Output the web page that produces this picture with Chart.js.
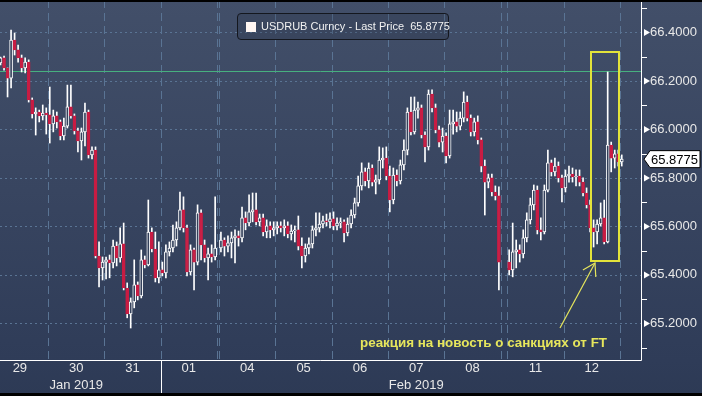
<!DOCTYPE html>
<html>
<head>
<meta charset="utf-8">
<script src="https://cdn.jsdelivr.net/npm/chart.js@4.4.1/dist/chart.umd.min.js"></script>
<style>
html, body { margin: 0; padding: 0; }
body {
  width: 702px; height: 396px; overflow: hidden;
  background: linear-gradient(#424f69 0px, #2f3c58 360px, #2d3a55 396px);
  font-family: "Liberation Sans", Arial, sans-serif;
}
.wrap { position: relative; width: 702px; height: 396px; }
.legend {
  position: absolute; left: 237px; top: 13px; width: 210px; height: 25px;
  border: 1px solid #14171e; border-radius: 4px; background: rgba(30, 38, 55, 0.2);
  color: #f2f2f2; font-size: 11px; line-height: 25px; white-space: nowrap;
}
.legend i { position: absolute; left: 8px; top: 8px; width: 10px; height: 10px; background: #fff6f2; }
.legend span { position: absolute; left: 23px; top: 0; }
.note {
  position: absolute; left: 360px; top: 335px; color: #e6e65c;
  font-weight: bold; font-size: 13.4px; white-space: nowrap;
}
.edge { position: absolute; left: 0; width: 702px; background: #000; }
</style>
</head>
<body>
<div class="wrap">
  <canvas id="chart"></canvas>
  <div class="legend"><i></i><span>USDRUB Curncy - Last Price&nbsp;&nbsp;65.8775</span></div>
  <div class="note">реакция на новость о санкциях от FT</div>
  <div class="edge" style="top:0;height:2px"></div>
  <div class="edge" style="top:393px;height:3px"></div>
</div>
<script>
// days shown (x unit = one trading day, weekends squeezed)
var dayLabels = ["29", "30", "31", "01", "04", "05", "06", "07", "08", "11", "12", "13"];
var monthLabels = { "30": "Jan 2019", "07": "Feb 2019" };
var dayStart = [-1, 0, 1, 2, 3.04, 4.04, 5.04, 6.04, 7.04, 8.16, 9.16, 10.16];
var firstSlot = [2, 0, 0, 0, 0, 0, 0, 0, 0, 0, 0, 0];
var barsPerDay = 16;
var gridLines = [0, 1, 2, 3, 3.04, 4.04, 5.04, 6.04, 7.04, 8.04, 8.16, 9.16, 10.16];
var monthSplit = 2;

var firstOpen = 66.274;
var closes = [
  [66.295, 66.254, 66.212, 66.369, 66.328, 66.295, 66.254, 66.278, 66.122, 66.064, 66.072, 66.056, 66.068, 66.060],
  [66.023, 66.056, 66.031, 65.973, 66.014, 66.093, 66.056, 65.994, 65.953, 65.990, 66.072, 65.895, 65.915, 65.478, 65.429, 65.453],
  [65.462, 65.449, 65.519, 65.470, 65.528, 65.346, 65.239, 65.289, 65.359, 65.313, 65.462, 65.441, 65.577, 65.507, 65.388, 65.421],
  [65.408, 65.495, 65.511, 65.544, 65.594, 65.668, 65.594, 65.412, 65.503, 65.453, 65.656, 65.524, 65.470, 65.487, 65.474, 65.511],
  [65.544, 65.519, 65.532, 65.553, 65.561, 65.553, 65.635, 65.614, 65.660, 65.668, 65.619, 65.635, 65.577, 65.602, 65.586, 65.594],
  [65.602, 65.594, 65.602, 65.569, 65.581, 65.586, 65.519, 65.478, 65.511, 65.528, 65.586, 65.594, 65.610, 65.623, 65.619, 65.631],
  [65.602, 65.614, 65.619, 65.573, 65.610, 65.647, 65.697, 65.767, 65.825, 65.788, 65.841, 65.783, 65.792, 65.874, 65.882, 65.808],
  [65.709, 65.812, 65.788, 65.854, 65.915, 66.072, 65.990, 66.080, 66.089, 65.977, 65.928, 66.146, 66.089, 65.998, 65.948, 65.973],
  [65.891, 66.023, 66.031, 66.014, 66.047, 66.113, 66.047, 65.990, 66.031, 65.957, 65.849, 65.783, 65.800, 65.742, 65.726, 65.453],
  [65.421, 65.495, 65.503, 65.487, 65.553, 65.627, 65.689, 65.750, 65.586, 65.577, 65.750, 65.862, 65.825, 65.849, 65.800, 65.759],
  [65.808, 65.816, 65.804, 65.808, 65.783, 65.738, 65.689, 65.594, 65.577, 65.610, 65.635, 65.536, 65.936, 65.882, 65.899, 65.866],
  [65.8775]
];
var highs = [
  [66.299, 66.303, 66.254, 66.410, 66.398, 66.348, 66.307, 66.295, 66.287, 66.130, 66.089, 66.080, 66.101, 66.089],
  [66.175, 66.080, 66.072, 66.039, 66.047, 66.183, 66.183, 66.064, 66.006, 66.006, 66.109, 66.080, 65.928, 65.928, 65.536, 65.474],
  [65.474, 65.482, 65.544, 65.536, 65.594, 65.614, 65.367, 65.305, 65.462, 65.371, 65.503, 65.478, 65.709, 65.594, 65.577, 65.536],
  [65.453, 65.524, 65.536, 65.606, 65.619, 65.742, 65.722, 65.606, 65.524, 65.511, 65.689, 65.668, 65.544, 65.511, 65.524, 65.722],
  [65.577, 65.553, 65.561, 65.577, 65.586, 65.581, 65.680, 65.660, 65.730, 65.738, 65.738, 65.651, 65.651, 65.627, 65.619, 65.619],
  [65.619, 65.619, 65.627, 65.619, 65.606, 65.602, 65.643, 65.553, 65.528, 65.553, 65.602, 65.656, 65.656, 65.643, 65.651, 65.656],
  [65.660, 65.635, 65.635, 65.627, 65.635, 65.668, 65.717, 65.808, 65.862, 65.841, 65.862, 65.854, 65.812, 65.928, 65.924, 65.928],
  [65.849, 65.841, 65.833, 65.874, 65.957, 66.089, 66.134, 66.134, 66.113, 66.101, 65.990, 66.163, 66.163, 66.105, 66.014, 66.006],
  [65.986, 66.080, 66.080, 66.072, 66.072, 66.155, 66.138, 66.060, 66.047, 66.056, 65.965, 65.874, 65.816, 65.816, 65.767, 65.763],
  [65.503, 65.614, 65.544, 65.524, 65.586, 65.656, 65.717, 65.771, 65.767, 65.635, 65.771, 65.915, 65.874, 65.882, 65.866, 65.812],
  [65.833, 65.849, 65.841, 65.833, 65.833, 65.800, 65.759, 65.709, 65.627, 65.627, 65.697, 65.709, 66.237, 65.948, 65.915, 65.915],
  [65.895]
];
var lows = [
  [66.266, 66.245, 66.134, 66.171, 66.307, 66.278, 66.237, 66.233, 66.113, 66.047, 65.977, 66.031, 66.039, 65.981],
  [65.944, 65.990, 66.006, 65.957, 65.957, 66.006, 66.047, 65.981, 65.907, 65.874, 65.932, 65.882, 65.878, 65.470, 65.350, 65.379],
  [65.383, 65.388, 65.429, 65.437, 65.453, 65.338, 65.223, 65.181, 65.264, 65.297, 65.305, 65.429, 65.437, 65.495, 65.371, 65.367],
  [65.396, 65.388, 65.478, 65.495, 65.519, 65.586, 65.577, 65.396, 65.400, 65.338, 65.441, 65.462, 65.453, 65.379, 65.453, 65.462],
  [65.495, 65.478, 65.495, 65.470, 65.449, 65.519, 65.536, 65.586, 65.602, 65.619, 65.606, 65.602, 65.561, 65.553, 65.553, 65.561],
  [65.569, 65.577, 65.561, 65.553, 65.544, 65.536, 65.503, 65.429, 65.453, 65.487, 65.511, 65.561, 65.577, 65.594, 65.602, 65.594],
  [65.586, 65.586, 65.594, 65.536, 65.561, 65.594, 65.635, 65.684, 65.750, 65.767, 65.759, 65.767, 65.734, 65.775, 65.841, 65.792],
  [65.660, 65.693, 65.767, 65.775, 65.833, 65.895, 65.977, 65.981, 66.047, 65.965, 65.866, 65.915, 66.072, 65.986, 65.928, 65.907],
  [65.862, 65.882, 65.981, 65.990, 65.998, 66.031, 66.035, 65.973, 65.973, 65.940, 65.825, 65.647, 65.759, 65.726, 65.709, 65.338],
  [65.400, 65.392, 65.429, 65.453, 65.470, 65.536, 65.610, 65.668, 65.569, 65.544, 65.569, 65.742, 65.808, 65.808, 65.783, 65.701],
  [65.742, 65.783, 65.783, 65.767, 65.767, 65.726, 65.676, 65.577, 65.515, 65.528, 65.602, 65.528, 65.532, 65.825, 65.841, 65.849],
  [65.849]
];

var yMin = 65.049, yMax = 66.534;
var xMin = -0.853, xMax = 10.533;
var refLevel = 66.241;      // green horizontal line
var boxX = [9.645, 10.14];  // yellow highlight
var boxY = [65.458, 66.32];
var arrowFrom = [9.094, 65.181];
var arrowTo = [9.716, 65.449];

var upFill = "#34415c";
var downFill = "#c81c43";
var gridColor = "#5a7494";
var yellow = "#e3e33a";

// build candles (open = previous close)
var candles = [];
var prev = firstOpen;
for (var d = 0; d < dayLabels.length; d++) {
  for (var k = 0; k < closes[d].length; k++) {
    candles.push({
      x: dayStart[d] + (firstSlot[d] + k + 0.5) / barsPerDay,
      o: prev, c: closes[d][k], h: highs[d][k], l: lows[d][k]
    });
    prev = closes[d][k];
  }
}
var lastPrice = candles[candles.length - 1].c;

// x ticks at day centres carry the labels
var xTicks = [];
dayLabels.forEach(function (lab, i) {
  var c = dayStart[i] + 0.5;
  if (c > xMax) return;
  xTicks.push({ value: c, label: monthLabels[lab] ? [lab, monthLabels[lab]] : lab });
});

var yTicks = [];
for (var t = 651; t <= 665; t++) yTicks.push(t / 10);
function isMajor(v) { return Math.round(v * 10) % 2 === 0; }

function crisp(v) { return Math.round(v) + 0.5; }

var overlay = {
  id: "overlay",
  beforeDatasetsDraw: function (chart) {
    var ctx = chart.ctx, a = chart.chartArea, x = chart.scales.x, y = chart.scales.y;
    ctx.save();
    ctx.lineWidth = 1;
    ctx.strokeStyle = gridColor;
    // dashed day separators
    ctx.setLineDash([8, 5]);
    ctx.beginPath();
    gridLines.forEach(function (v) {
      var px = crisp(x.getPixelForValue(v));
      ctx.moveTo(px, a.top); ctx.lineTo(px, a.bottom);
    });
    ctx.stroke();
    // dotted price levels
    ctx.setLineDash([2, 3]);
    ctx.beginPath();
    yTicks.forEach(function (v) {
      if (!isMajor(v)) return;
      var py = crisp(y.getPixelForValue(v));
      ctx.moveTo(a.left, py); ctx.lineTo(a.right, py);
    });
    ctx.stroke();
    ctx.setLineDash([]);
    // green level
    ctx.strokeStyle = "#47b07f";
    var gy = crisp(y.getPixelForValue(refLevel));
    ctx.beginPath(); ctx.moveTo(a.left, gy); ctx.lineTo(a.right, gy); ctx.stroke();
    ctx.restore();
  },
  afterDatasetsDraw: function (chart) {
    var ctx = chart.ctx, x = chart.scales.x, y = chart.scales.y;
    ctx.save();
    ctx.strokeStyle = yellow;
    ctx.lineWidth = 2;
    var x0 = Math.round(x.getPixelForValue(boxX[0])), x1 = Math.round(x.getPixelForValue(boxX[1]));
    var y0 = Math.round(y.getPixelForValue(boxY[1])), y1 = Math.round(y.getPixelForValue(boxY[0]));
    ctx.strokeRect(x0, y0, x1 - x0, y1 - y0);
    // arrow
    var fx = x.getPixelForValue(arrowFrom[0]), fy = y.getPixelForValue(arrowFrom[1]);
    var tx = x.getPixelForValue(arrowTo[0]), ty = y.getPixelForValue(arrowTo[1]);
    ctx.strokeStyle = "#e6e65c";
    ctx.lineWidth = 1.2;
    ctx.beginPath(); ctx.moveTo(fx, fy); ctx.lineTo(tx, ty); ctx.stroke();
    var ang = Math.atan2(fy - ty, fx - tx);
    ctx.beginPath();
    ctx.moveTo(tx + 14 * Math.cos(ang - 0.55), ty + 14 * Math.sin(ang - 0.55));
    ctx.lineTo(tx, ty);
    ctx.lineTo(tx + 14 * Math.cos(ang + 0.55), ty + 14 * Math.sin(ang + 0.55));
    ctx.stroke();
    ctx.restore();
  },
  afterDraw: function (chart) {
    var ctx = chart.ctx, a = chart.chartArea, x = chart.scales.x, y = chart.scales.y;
    ctx.save();
    ctx.strokeStyle = "#ffffff";
    ctx.lineWidth = 1;
    ctx.beginPath();
    ctx.moveTo(crisp(a.right), 0); ctx.lineTo(crisp(a.right), crisp(a.bottom));
    ctx.moveTo(a.left, crisp(a.bottom)); ctx.lineTo(crisp(a.right), crisp(a.bottom));
    var sx = crisp(x.getPixelForValue(monthSplit));
    ctx.moveTo(sx, a.bottom); ctx.lineTo(sx, chart.height);
    // minor tick marks
    yTicks.forEach(function (v) {
      if (isMajor(v)) return;
      var py = crisp(y.getPixelForValue(v));
      ctx.moveTo(a.right, py); ctx.lineTo(a.right + 6, py);
    });
    ctx.stroke();
    // arrow markers on labelled ticks
    ctx.fillStyle = "#ffffff";
    yTicks.forEach(function (v) {
      if (!isMajor(v)) return;
      var py = y.getPixelForValue(v);
      ctx.beginPath();
      ctx.moveTo(a.right + 3, py - 3.5); ctx.lineTo(a.right + 9, py); ctx.lineTo(a.right + 3, py + 3.5);
      ctx.closePath(); ctx.fill();
    });
    // last price tag
    var ly = y.getPixelForValue(lastPrice);
    ctx.beginPath();
    ctx.moveTo(a.right + 3, ly);
    ctx.lineTo(a.right + 9, ly - 8.5);
    ctx.lineTo(a.right + 59, ly - 8.5);
    ctx.lineTo(a.right + 59, ly + 8.5);
    ctx.lineTo(a.right + 9, ly + 8.5);
    ctx.closePath();
    ctx.fillStyle = "#ffffff"; ctx.fill();
    ctx.strokeStyle = "#000000"; ctx.stroke();
    ctx.fillStyle = "#000000";
    ctx.font = "13px 'Liberation Sans', Arial, sans-serif";
    ctx.textBaseline = "middle";
    ctx.fillText(lastPrice.toFixed(4), a.right + 10, ly + 1);
    ctx.restore();
  }
};

new Chart(document.getElementById("chart"), {
  type: "bar",
  data: {
    datasets: [
      {
        label: "body",
        order: 0,
        data: candles.map(function (p) { return { x: p.x, y: [p.o, p.c] }; }),
        backgroundColor: candles.map(function (p) { return p.c < p.o ? downFill : upFill; }),
        borderColor: candles.map(function (p) { return p.c < p.o ? downFill : "#ffffff"; }),
        borderWidth: 1,
        borderSkipped: false,
        barThickness: 3,
        minBarLength: 1
      },
      {
        label: "wick",
        order: 1,
        data: candles.map(function (p) { return { x: p.x, y: [p.l, p.h] }; }),
        backgroundColor: "#ffffff",
        borderWidth: 0,
        barThickness: 1
      }
    ]
  },
  options: {
    responsive: true,
    maintainAspectRatio: false,
    animation: false,
    grouped: false,
    layout: { padding: 0 },
    plugins: { legend: { display: false }, tooltip: { enabled: false } },
    scales: {
      x: {
        type: "linear",
        min: xMin,
        max: xMax,
        offset: false,
        afterBuildTicks: function (s) { s.ticks = xTicks.map(function (t) { return { value: t.value }; }); },
        afterFit: function (s) { s.height = 36; },
        grid: { display: true, drawOnChartArea: false, drawTicks: false, offset: false, color: "rgba(0,0,0,0)" },
        border: { display: false },
        ticks: {
          autoSkip: false,
          maxRotation: 0,
          padding: 0,
          color: "#e8e8e8",
          font: { family: "'Liberation Sans', Arial, sans-serif", size: 13, lineHeight: "17px" },
          callback: function (v, i) { return xTicks[i] ? xTicks[i].label : []; }
        }
      },
      y: {
        type: "linear",
        position: "right",
        min: yMin,
        max: yMax,
        afterBuildTicks: function (s) { s.ticks = yTicks.map(function (v) { return { value: v }; }); },
        afterFit: function (s) { s.width = 61; },
        grid: { display: true, drawOnChartArea: false, drawTicks: true, tickLength: 9, color: "rgba(0,0,0,0)", tickColor: "rgba(0,0,0,0)" },
        border: { display: false },
        ticks: {
          autoSkip: false,
          padding: 0,
          color: "#e8e8e8",
          font: { family: "'Liberation Sans', Arial, sans-serif", size: 13 },
          callback: function (v) { return isMajor(v) ? v.toFixed(4) : []; }
        }
      }
    }
  },
  plugins: [overlay]
});
</script>
</body>
</html>
